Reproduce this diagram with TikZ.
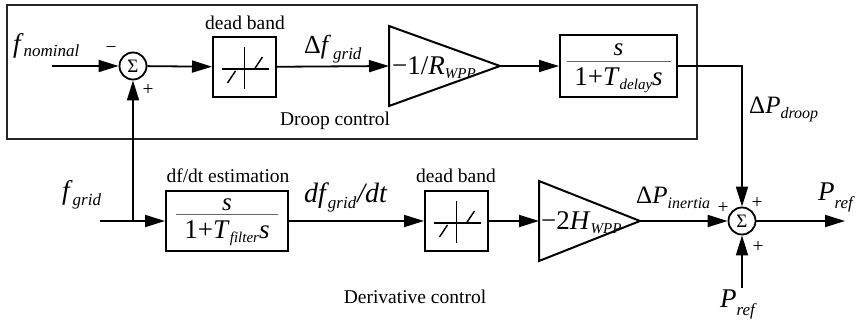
\documentclass[tikz,border=0pt]{standalone}
\usepackage{fontspec}
\setmainfont{Liberation Serif}
\usetikzlibrary{arrows.meta}
\newcommand\fs[1]{\fontsize{#1}{#1}\selectfont}
\newcommand\sbx[3]{\raisebox{-#1pt}{\fs{#2}\itshape #3}}
\begin{document}
\begin{tikzpicture}[x=1pt,y=-1pt,
  sig/.style={line width=1.8pt,-{Triangle[length=20pt,width=12pt]}},
  wire/.style={line width=1.8pt},
  box/.style={draw,line width=2pt,inner sep=0pt,minimum height=60pt},
  sumnode/.style={draw,circle,line width=1.8pt,inner sep=0pt,minimum size=27pt,font=\fs{19}},
  txt/.style={inner sep=0pt},
  small/.style={inner sep=0pt,font=\fs{19.5}},
  tri/.style={draw,line width=2pt,line join=miter},
  dbsym/.style={line width=1.5pt},
  fbar/.style={line width=0.9pt,black!60}]
\useasboundingbox (0,0) rectangle (862,324);
% droop control frame
\node[draw,line width=1.3pt,black!85,minimum width=690pt,minimum height=134pt,inner sep=0pt] (droop) at (352,72) {};
\node[small] (droopt) at (335,121) {Droop control};
% ---------- top row ----------
\coordinate (fnomin) at (52,66);
\node[txt,anchor=base west] (lfnom) at (13,52) {\fs{27}\itshape f\kern3pt\sbx{5}{17}{nominal}};
\node[sumnode] (s1) at (133,66) {Σ};
\node[small] (m1) at (111,50) {−};
\node[small] (p1) at (148,90) {+};
\node[box,minimum width=63pt] (db1) at (244.5,67) {};
\node[small] (db1t) at (245,23) {dead band};
\draw[dbsym] ([shift={(-23,2)}]db1.center) -- ([shift={(24,2)}]db1.center);
\draw[dbsym] ([shift={(0,-20)}]db1.center) -- ([shift={(0,22)}]db1.center);
\draw[dbsym] ([shift={(-17,16)}]db1.center) -- ([shift={(-9,4)}]db1.center);
\draw[dbsym] ([shift={(10,2)}]db1.center) -- ([shift={(18,-10)}]db1.center);
\node[txt,anchor=base west] (ldf) at (304,53) {\fs{26}Δ\textit{f}\kern2pt\sbx{6}{17}{grid}};
\draw[tri] (389,26) -- (389,106) -- (500,66) -- cycle;
\coordinate (g1in) at (389,66);
\coordinate (g1out) at (500,66);
\node[txt,anchor=base west] (g1t) at (392,74) {\fs{27}−1/\textit{R}\sbx{4}{15}{WPP}};
\node[box,minimum width=117pt,minimum height=62pt] (tf1) at (618.5,66) {};
\node[txt] (tf1n) at (618.5,50) {\fs{25}\itshape s};
\draw[fbar] ([shift={(-52,-5)}]tf1.center) -- ([shift={(52,-5)}]tf1.center);
\node[txt,anchor=base] (tf1d) at (618.5,85) {\fs{27}1+\textit{T}\sbx{4}{15}{delay}\textit{s}};
\node[txt,anchor=base west] (ldroop) at (749,113) {\fs{25}Δ\textit{P}\sbx{5}{16}{droop}};
% ---------- bottom row ----------
\coordinate (fgin) at (100,221);
\coordinate (br) at (133,221);
\node[txt,anchor=base west] (lfgrid) at (62,199) {\fs{27}\itshape f\kern3pt\sbx{6}{17}{grid}};
\node[box,minimum width=122pt] (tf2) at (227,221) {};
\node[small] (tf2t) at (228,176) {df/dt estimation};
\node[txt] (tf2n) at (227,205) {\fs{25}\itshape s};
\draw[fbar] ([shift={(-51,-7)}]tf2.center) -- ([shift={(51,-7)}]tf2.center);
\node[txt,anchor=base] (tf2d) at (227,238) {\fs{27}1+\textit{T}\sbx{4}{15}{filter}\textit{s}};
\node[txt,anchor=base west] (ldfdt) at (304,202) {\fs{28}\itshape df\kern2pt\sbx{6}{17}{grid}\kern1pt/dt};
\node[box,minimum width=63pt] (db2) at (456.5,221) {};
\node[small] (db2t) at (456,176) {dead band};
\draw[dbsym] ([shift={(-23,2)}]db2.center) -- ([shift={(24,2)}]db2.center);
\draw[dbsym] ([shift={(0,-20)}]db2.center) -- ([shift={(0,22)}]db2.center);
\draw[dbsym] ([shift={(-17,16)}]db2.center) -- ([shift={(-9,4)}]db2.center);
\draw[dbsym] ([shift={(10,2)}]db2.center) -- ([shift={(18,-10)}]db2.center);
\draw[tri] (539,181) -- (539,261) -- (640,221) -- cycle;
\coordinate (g2in) at (539,221);
\coordinate (g2out) at (640,221);
\node[txt,anchor=base west] (g2t) at (541,229) {\fs{27}−2\textit{H}\sbx{4}{15}{WPP}};
\node[txt,anchor=base west] (linert) at (636,203) {\fs{25}Δ\textit{P}\sbx{5}{16}{inertia}};
\node[sumnode] (s2) at (742,221) {Σ};
\node[small] (p2) at (723,208) {+};
\node[small] (p3) at (757,203) {+};
\node[small] (p4) at (758,247) {+};
\coordinate (pout) at (845,221);
\coordinate (prefin) at (742,288);
\node[txt,anchor=base west] (lpref) at (818,200) {\fs{27}\itshape P\sbx{8}{17}{ref}};
\node[txt,anchor=base west] (lpref2) at (720,307) {\fs{27}\itshape P\sbx{8}{17}{ref}};
\node[small] (dert) at (415,297) {Derivative control};
% ---------- connectors ----------
\draw[sig] (fnomin) -- (s1);
\draw[sig] (s1) -- (db1);
\draw[sig] (db1) -- (g1in);
\draw[sig] (g1out) -- (tf1);
\draw[sig] (tf1.east) -| (s2);
\draw[wire] (fgin) -- (br);
\draw[sig] (br) -- (tf2);
\draw[sig] (br) -- (s1);
\draw[sig] (tf2) -- (db2);
\draw[sig] (db2) -- (g2in);
\draw[sig] (g2out) -- (s2);
\draw[sig] (s2) -- (pout);
\draw[sig] (prefin) -- (s2);
\end{tikzpicture}
\end{document}
